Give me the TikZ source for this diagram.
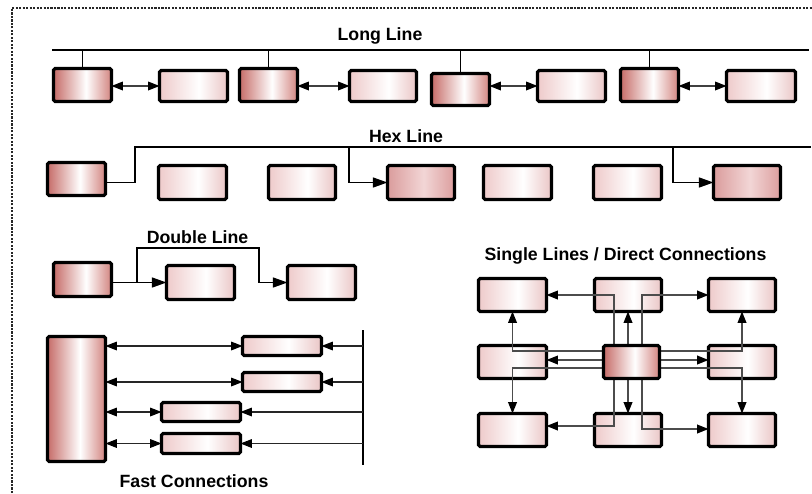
\documentclass[tikz,border=0pt]{standalone}
\usepackage{fontspec}
\setmainfont{Liberation Sans}
\usetikzlibrary{arrows.meta}

% box fills: dark rose, medium rose and pale rose, each with a white streak
\definecolor{dkL}{RGB}{198,108,104}
\definecolor{dkR}{RGB}{210,132,128}
\definecolor{mdL}{RGB}{218,156,156}
\definecolor{mdC}{RGB}{242,214,214}
\definecolor{mdR}{RGB}{220,158,158}
\definecolor{ltL}{RGB}{238,202,202}
\definecolor{ltR}{RGB}{234,198,198}
\pgfdeclarehorizontalshading{dkshade}{100bp}{color(0bp)=(dkL); color(25bp)=(dkL); color(53bp)=(white); color(75bp)=(dkR); color(100bp)=(dkR)}
\pgfdeclarehorizontalshading{mdshade}{100bp}{color(0bp)=(mdL); color(25bp)=(mdL); color(52bp)=(mdC); color(75bp)=(mdR); color(100bp)=(mdR)}
\pgfdeclarehorizontalshading{ltshade}{100bp}{color(0bp)=(ltL); color(25bp)=(ltL); color(54bp)=(white); color(75bp)=(ltR); color(100bp)=(ltR)}

\pgfdeclarelayer{front}
\pgfsetlayers{main,front}

% \bx{name}{style}{x1}{y1}{x2}{y2}: a box given by its outer corners
\newcommand\bx[6]{\node[#2, minimum width={(#5-#3-3)*0.75pt}, minimum height={(#6-#4-3)*0.75pt}] (#1) at ({(#3+#5)/2},{(#4+#6)/2}) {};}

\tikzset{
  box/.style={draw=black, line width=2.3pt, rounded corners=1.2pt, inner sep=0pt, outer sep=0pt},
  dk/.style={box, shading=dkshade},
  md/.style={box, shading=mdshade},
  lt/.style={box, shading=ltshade},
  ar/.style={-{Triangle[length=8.5pt,width=6.5pt,color=black]}},
  dar/.style={{Triangle[length=8.5pt,width=6.5pt,color=black]}-{Triangle[length=8.5pt,width=6.5pt,color=black]}},
  bigar/.style={-{Triangle[length=11pt,width=7.5pt,color=black]}},
  conn/.style={draw=black!75, line width=0.9pt},
  bus/.style={draw=black, line width=1.4pt},
  hexl/.style={draw=black, line width=1.2pt},
  fc/.style={draw=black!85, line width=0.8pt},
  ms/.style={draw=black!70, line width=1.1pt},
  title/.style={font=\bfseries\fontsize{13.3pt}{15pt}\selectfont, anchor=base, inner sep=0pt},
}

\begin{document}
\begin{tikzpicture}[x=0.75pt, y=-0.75pt]
\useasboundingbox (0,0) rectangle (812,493);

% dotted frame
\draw[black!85, line width=0.9pt, dash pattern=on 1.6pt off 1pt] (12,493) -- (12,8) -- (812,8);

% ---------- Long Line ----------
\node[title] (tLong) at (380,40) {Long Line};
\bx{b1}{dk}{52}{67}{113}{103}
\bx{b2}{lt}{158}{69}{229}{103}
\bx{b3}{dk}{238}{67}{299}{103}
\bx{b4}{lt}{348}{69}{418}{103}
\bx{b5}{dk}{430}{72}{491}{107}
\bx{b6}{lt}{536}{69}{607}{103}
\bx{b7}{dk}{619}{67}{680}{103}
\bx{b8}{lt}{725}{69}{797}{103}
\coordinate (llL) at (52,50);
\coordinate (llR) at (809,50);
\draw[bus] (llL) -- (llR);
\foreach \n in {b1,b3,b5,b7}
  \draw[bus] (\n.north) -- (\n.north |- llL);
\draw[conn,dar] (b1.east |- b2.west) -- (b2.west);
\draw[conn,dar] (b3.east |- b4.west) -- (b4.west);
\draw[conn,dar] (b5.east |- b6.west) -- (b6.west);
\draw[conn,dar] (b7.east |- b8.west) -- (b8.west);

% ---------- Hex Line ----------
\node[title] (tHex) at (406,142) {Hex Line};
\bx{hA}{dk}{46}{161}{107}{197}
\bx{hB}{lt}{157}{164}{228}{201}
\bx{hC}{lt}{267}{164}{337}{201}
\bx{hD}{md}{386}{164}{456}{201}
\bx{hE}{lt}{482}{164}{553}{201}
\bx{hF}{lt}{592}{164}{663}{201}
\bx{hG}{md}{712}{164}{782}{201}
\coordinate (hxUp) at (135,147);
\coordinate (hxEnd) at (811,147);
\coordinate (hx1) at (349,147);
\coordinate (hx2) at (673,147);
\draw[hexl] (hA.east |- hD.west) -| (hxUp) -- (hxEnd);
\draw[hexl,bigar] (hx1) |- (hD.west);
\draw[hexl,bigar] (hx2) |- (hG.west);

% ---------- Double Line ----------
\node[title] (tDouble) at (197.5,243) {Double Line};
\bx{dA}{dk}{52}{261}{113}{298}
\bx{dB}{lt}{165}{264}{236}{301}
\bx{dC}{lt}{286}{264}{357}{301}
\coordinate (dlUpL) at (137,248);
\coordinate (dlUpR) at (259,248);
\draw[hexl,bigar] (dA.east |- dB.west) -- (dB.west);
\draw[hexl,bigar] (dlUpL |- dB.west) -- (dlUpL) -- (dlUpR) |- (dC.west);

% ---------- Fast Connections ----------
\node[title] (tFast) at (194,487) {Fast Connections};
\bx{big}{dk}{46}{335}{107}{463}
\bx{f1}{lt}{241}{335}{323}{357}
\bx{f2}{lt}{241}{371}{323}{393}
\bx{f3}{lt}{160}{401}{242}{423}
\bx{f4}{lt}{160}{432}{242}{455}
\coordinate (barT) at (363,330);
\coordinate (barB) at (363,465);
\draw[black, line width=2.2pt] (barT) -- (barB);
\foreach \n in {f1,f2,f3,f4}{
  \draw[fc,dar] (big.east |- \n.west) -- (\n.west);
  \draw[fc,ar] (barT |- \n.east) -- (\n.east);
}

% ---------- Single Lines / Direct Connections ----------
\node[title] (tSingle) at (625.5,260) {Single Lines / Direct Connections};
\bx{tl}{lt}{477}{277}{548}{313}
\bx{tm}{lt}{593}{277}{663}{313}
\bx{tr}{lt}{707}{277}{777}{313}
\bx{ml}{lt}{477}{344}{548}{380}
\bx{mr}{lt}{707}{344}{777}{380}
\bx{bl}{lt}{477}{412}{548}{448}
\bx{bm}{lt}{593}{412}{663}{448}
\bx{br}{lt}{707}{412}{777}{448}
\begin{pgfonlayer}{front}
\bx{c}{dk}{602}{344}{661}{380}
\end{pgfonlayer}
\coordinate (vL) at (614,0);
\coordinate (vR) at (642,0);
\coordinate (hT) at (0,351);
\coordinate (hM) at (0,360);
\coordinate (hB) at (0,368);
\coordinate (yBL) at (0,426);
\coordinate (yBR) at (0,429);
\draw[ms,ar] (c.north -| tm) -- (tm.south);
\draw[ms,ar] (c.south -| bm) -- (bm.north);
\draw[ms,ar] (c.west |- hM) -- (ml.east |- hM);
\draw[ms,ar] (c.east |- hM) -- (mr.west |- hM);
\draw[ms,ar] (c.north -| vL) |- (tl.east);
\draw[ms,ar] (c.south -| vL) |- (bl.east |- yBL);
\draw[ms,ar] (c.north -| vR) |- (tr.west);
\draw[ms,ar] (c.south -| vR) |- (br.west |- yBR);
\draw[ms,ar] (c.west |- hT) -| (tl.south);
\draw[ms,ar] (c.west |- hB) -| (bl.north);
\draw[ms,ar] (c.east |- hT) -| (tr.south);
\draw[ms,ar] (c.east |- hB) -| (br.north);
\end{tikzpicture}
\end{document}
